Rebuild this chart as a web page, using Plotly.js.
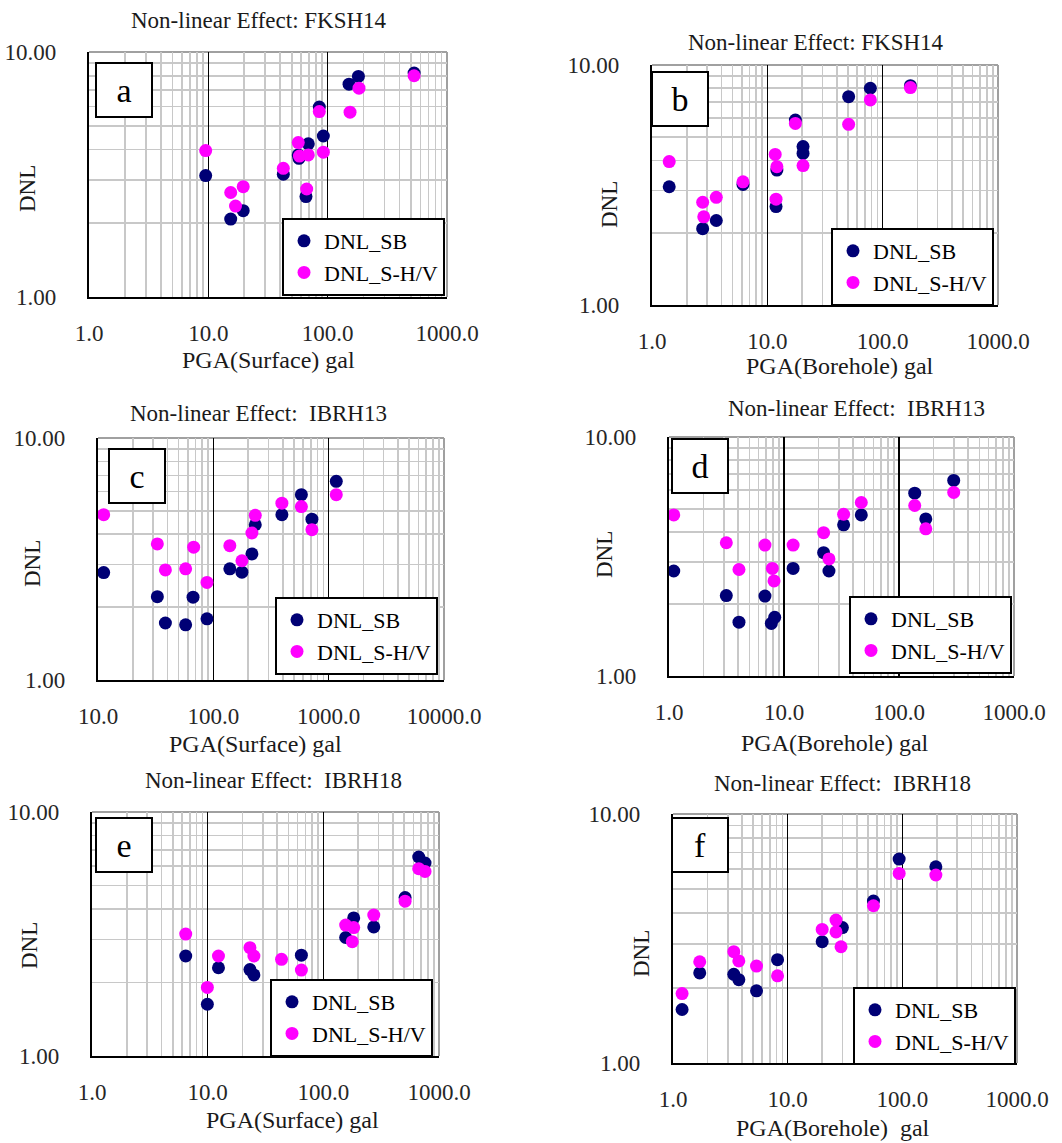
<!DOCTYPE html>
<html><head><meta charset="utf-8">
<script src="https://cdn.plot.ly/plotly-3.0.1.min.js"></script>
<style>html,body{margin:0;padding:0;background:#fff;}#chart{width:1062px;height:1143px;}</style>
</head><body><div id="chart"></div>
<script>
// ---------------- DATA ----------------
const seriesNames = ['DNL_SB', 'DNL_S-H/V'];
const panelLetters = ['a', 'b', 'c', 'd', 'e', 'f'];
const panelTitles = ['Non-linear Effect: FKSH14', 'Non-linear Effect: FKSH14',
  'Non-linear Effect:  IBRH13', 'Non-linear Effect:  IBRH13',
  'Non-linear Effect:  IBRH18', 'Non-linear Effect:  IBRH18'];
const xTitles = ['PGA(Surface) gal', 'PGA(Borehole) gal', 'PGA(Surface) gal',
  'PGA(Borehole) gal', 'PGA(Surface) gal', 'PGA(Borehole)  gal'];
const yTitle = 'DNL';
const xTickVals = [1, 10, 100, 1000];
const xTickText = ['1.0', '10.0', '100.0', '1000.0'];
const xTickValsC = [10, 100, 1000, 10000];
const xTickTextC = ['10.0', '100.0', '1000.0', '10000.0'];
const yTickVals = [1, 10];
const yTickText = ['1.00', '10.00'];

// (a) FKSH14, PGA surface
const a_sb_x = [9.5, 15.4, 19.6, 42.5, 56.7, 57.5, 68.8, 65.8, 85.1, 92, 151, 181, 530];
const a_sb_y = [3.13, 2.08, 2.25, 3.17, 3.80, 3.68, 4.22, 2.57, 5.96, 4.54, 7.39, 7.95, 8.20];
const a_hv_x = [9.5, 15.4, 19.6, 16.9, 42.5, 56.7, 58, 68.8, 66.7, 85.1, 92, 154, 183, 530];
const a_hv_y = [3.96, 2.67, 2.82, 2.35, 3.35, 4.27, 3.76, 3.80, 2.76, 5.71, 3.90, 5.68, 7.12, 8.00];
// (b) FKSH14, PGA borehole
const b_sb_x = [1.41, 2.75, 3.61, 6.15, 11.9, 12.1, 17.5, 20.4, 20.4, 50.7, 78.2, 174];
const b_sb_y = [3.11, 2.08, 2.25, 3.18, 2.57, 3.65, 5.90, 4.57, 4.28, 7.38, 8.00, 8.20];
const b_hv_x = [1.41, 2.75, 3.61, 2.81, 6.15, 11.7, 12.1, 11.9, 17.5, 20.4, 50.7, 78.2, 174];
const b_hv_y = [3.96, 2.68, 2.81, 2.33, 3.26, 4.24, 3.77, 2.76, 5.71, 3.81, 5.66, 7.15, 8.05];
// (c) IBRH13, PGA surface
const c_sb_x = [11.2, 32.7, 38.4, 57.5, 66.7, 88.1, 139, 177, 216, 231, 393, 580, 716, 1164];
const c_sb_y = [2.78, 2.21, 1.72, 1.69, 2.20, 1.79, 2.88, 2.79, 3.32, 4.38, 4.82, 5.83, 4.62, 6.62];
const c_hv_x = [11.2, 32.7, 38.4, 57.5, 67.5, 88.1, 139, 177, 216, 231, 393, 580, 716, 1164];
const c_hv_y = [4.82, 3.65, 2.85, 2.88, 3.54, 2.53, 3.59, 3.11, 4.05, 4.79, 5.38, 5.21, 4.18, 5.83];
// (d) IBRH13, PGA borehole
const d_sb_x = [1.10, 3.15, 4.06, 6.83, 7.76, 8.30, 12.0, 22.1, 24.6, 33.0, 47.0, 137, 171, 299];
const d_sb_y = [2.75, 2.17, 1.68, 2.16, 1.66, 1.76, 2.82, 3.28, 2.75, 4.29, 4.72, 5.82, 4.54, 6.58];
const d_hv_x = [1.10, 3.15, 4.06, 6.83, 7.92, 8.19, 12.0, 22.1, 24.6, 33.0, 47.0, 137, 171, 299];
const d_hv_y = [4.72, 3.61, 2.79, 3.53, 2.82, 2.50, 3.53, 3.98, 3.09, 4.75, 5.32, 5.17, 4.13, 5.86];
// (e) IBRH18, PGA surface
const e_sb_x = [6.46, 9.94, 12.4, 23.2, 25.1, 43.5, 64.6, 156, 183, 273, 509, 668, 757];
const e_sb_y = [2.57, 1.63, 2.30, 2.26, 2.15, 1.94, 2.59, 3.06, 3.68, 3.38, 4.46, 6.54, 6.18];
const e_hv_x = [6.46, 9.94, 12.4, 23.2, 25.1, 43.5, 64.6, 156, 183, 178, 273, 509, 668, 757];
const e_hv_y = [3.16, 1.91, 2.57, 2.78, 2.57, 2.49, 2.25, 3.44, 3.36, 2.94, 3.78, 4.31, 5.86, 5.71];
// (f) IBRH18, PGA borehole
const f_sb_x = [1.20, 1.71, 3.39, 3.75, 5.35, 8.16, 20.0, 30.0, 56.0, 93.8, 196];
const f_sb_y = [1.64, 2.30, 2.27, 2.16, 1.95, 2.60, 3.07, 3.50, 4.47, 6.59, 6.14];
const f_hv_x = [1.20, 1.71, 3.39, 3.75, 5.35, 8.16, 20.0, 26.4, 26.4, 29.2, 56.0, 93.8, 196];
const f_hv_y = [1.90, 2.55, 2.80, 2.57, 2.45, 2.24, 3.44, 3.75, 3.36, 2.93, 4.28, 5.77, 5.69];

// ---------------- LAYOUT (pixel boxes) ----------------
const W = 1062, H = 1143;
const FONT = 'Liberation Serif';
const SB_COLOR = '#000075', HV_COLOR = '#ff00ff';
const GRID = '#c8c8c8', FRAME = '#a0a0a0';
const panels = [
  {sb:[a_sb_x,a_sb_y], hv:[a_hv_x,a_hv_y], box:[89,447,52,297], xr:[0,3], tv:xTickVals, tt:xTickText,
   title:[259,20], xt:[268,360], yt:[27,189], leg:[445,296], gap:0, let:[124,90]},
  {sb:[b_sb_x,b_sb_y], hv:[b_hv_x,b_hv_y], box:[652,998,65,305], xr:[0,3], tv:xTickVals, tt:xTickText,
   title:[816,43], xt:[840,366], yt:[610,205], leg:[994,306], gap:0, let:[680,99]},
  {sb:[c_sb_x,c_sb_y], hv:[c_hv_x,c_hv_y], box:[98,444,438,680], xr:[1,4], tv:xTickValsC, tt:xTickTextC,
   title:[258,413], xt:[255,744], yt:[33,564], leg:[438,675], gap:0, let:[137,476]},
  {sb:[d_sb_x,d_sb_y], hv:[d_hv_x,d_hv_y], box:[669,1014,437,676], xr:[0,3], tv:xTickVals, tt:xTickText,
   title:[856,408], xt:[835,743], yt:[604,555], leg:[1012,674], gap:0, let:[700,466]},
  {sb:[e_sb_x,e_sb_y], hv:[e_hv_x,e_hv_y], box:[92,439,812,1056], xr:[0,3], tv:xTickVals, tt:xTickText,
   title:[274,780], xt:[292,1120], yt:[29,946], leg:[433,1057], gap:0, let:[124,845]},
  {sb:[f_sb_x,f_sb_y], hv:[f_hv_x,f_hv_y], box:[673,1017,814,1063], xr:[0,3], tv:xTickVals, tt:xTickText,
   title:[842,783], xt:[833,1128], yt:[641,954], leg:[1016,1065], gap:0, let:[700,845]}
];

const px = v => v / W, py = v => 1 - v / H;
const traces = [], annotations = [], shapes = [];
const layout = {
  width: W, height: H, margin: {l:0, r:0, t:0, b:0},
  paper_bgcolor: '#fff', plot_bgcolor: '#fff', showlegend: true,
  font: {family: FONT, size: 22, color: '#1a1a1a'}
};

panels.forEach((p, i) => {
  const n = i === 0 ? '' : String(i + 1);
  const xa = 'x' + n, ya = 'y' + n;
  const legName = 'legend' + n;
  [[p.sb, 0, SB_COLOR], [p.hv, 1, HV_COLOR]].forEach(([d, k, col]) => {
    traces.push({
      type: 'scatter', mode: 'markers', x: d[0], y: d[1], name: seriesNames[k],
      xaxis: xa, yaxis: ya, legend: legName, legendgroup: 'g' + k,
      marker: {color: col, size: 13, line: {width: 0}},
      hoverinfo: 'x+y'
    });
  });
  const [l, r, t, b] = p.box;
  layout['xaxis' + n] = {
    type: 'log', range: p.xr, domain: [px(l), px(r)], anchor: ya,
    tickmode: 'array', tickvals: p.tv, ticktext: p.tt, ticks: '',
    ticklabelstandoff: 14, tickfont: {family: FONT, size: 23, color: '#262626'},
    showgrid: true, gridcolor: '#000', gridwidth: 1.6,
    minor: {dtick: 'D1', showgrid: true, gridcolor: GRID, gridwidth: 1.6, ticks: ''},
    showline: true, linecolor: '#000', linewidth: 2.2, mirror: false, zeroline: false,
    fixedrange: true
  };
  layout['yaxis' + n] = {
    type: 'log', range: [0, 1], domain: [py(b), py(t)], anchor: xa,
    tickmode: 'array', tickvals: yTickVals, ticktext: yTickText, ticks: '',
    ticklabelstandoff: 26, tickfont: {family: FONT, size: 23, color: '#262626'},
    showgrid: true, gridcolor: GRID, gridwidth: 1.6,
    minor: {dtick: 'D1', showgrid: true, gridcolor: GRID, gridwidth: 1.6, ticks: ''},
    showline: true, linecolor: '#000', linewidth: 2.2, mirror: false, zeroline: false,
    fixedrange: true
  };
  // gray plot-area frame on the top and right edges
  shapes.push({type: 'line', xref: xa + ' domain', yref: ya + ' domain', x0: 0, x1: 1, y0: 1, y1: 1,
    line: {color: FRAME, width: 2}, layer: 'below'});
  shapes.push({type: 'line', xref: xa + ' domain', yref: ya + ' domain', x0: 1, x1: 1, y0: 0, y1: 1,
    line: {color: FRAME, width: 2}, layer: 'below'});
  layout[legName] = {
    x: px(p.leg[0]), y: py(p.leg[1]), xanchor: 'right', yanchor: 'bottom',
    xref: 'paper', yref: 'paper',
    bgcolor: '#fff', bordercolor: '#000', borderwidth: 2,
    font: {family: FONT, size: 22, color: '#000'},
    itemwidth: 30, tracegroupgap: p.gap, traceorder: 'normal'
  };
  annotations.push({text: panelTitles[i], x: px(p.title[0]), y: py(p.title[1]), xref: 'paper', yref: 'paper',
    xanchor: 'center', yanchor: 'middle', showarrow: false,
    font: {family: FONT, size: 23, color: '#1a1a1a'}});
  annotations.push({text: xTitles[i], x: px(p.xt[0]), y: py(p.xt[1]), xref: 'paper', yref: 'paper',
    xanchor: 'center', yanchor: 'middle', showarrow: false,
    font: {family: FONT, size: 24, color: '#1a1a1a'}});
  annotations.push({text: yTitle, x: px(p.yt[0]), y: py(p.yt[1]), xref: 'paper', yref: 'paper',
    xanchor: 'center', yanchor: 'middle', showarrow: false, textangle: -90,
    font: {family: FONT, size: 23, color: '#1a1a1a'}});
  annotations.push({text: panelLetters[i], x: px(p.let[0]), y: py(p.let[1]), xref: 'paper', yref: 'paper',
    xanchor: 'center', yanchor: 'middle', showarrow: false,
    width: 52, height: 50, bgcolor: '#fff', bordercolor: '#000', borderwidth: 2,
    font: {family: FONT, size: 34, color: '#000'}});
});
layout.annotations = annotations;
layout.shapes = shapes;

Plotly.newPlot('chart', traces, layout, {staticPlot: true, displayModeBar: false});
</script></body></html>
